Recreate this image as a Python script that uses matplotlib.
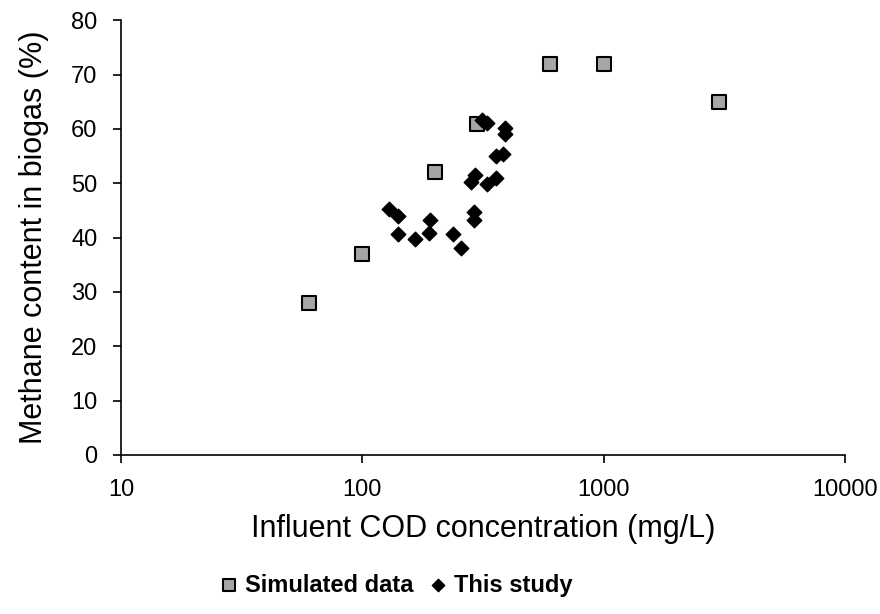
import matplotlib.pyplot as plt

plt.rcParams['font.family'] = ['Liberation Sans', 'DejaVu Sans']

# Simulated data (square markers)
sim_cod = [60, 100, 200, 300, 600, 1000, 3000]
sim_ch4 = [28, 37, 52, 61, 72, 72, 65]

# This study (diamond markers)
study_cod = [129, 141, 140, 165, 190, 189, 238, 256, 290, 290,
             292, 283, 329, 357, 357, 384, 389, 392, 314, 329]
study_ch4 = [45.2, 43.9, 40.6, 39.8, 43.3, 40.8, 40.6, 38.0, 44.7, 43.3,
             51.6, 50.2, 49.9, 51.0, 55.0, 55.3, 60.2, 59.0, 61.7, 61.1]

fig = plt.figure(figsize=(8.8, 6.14), dpi=100)
ax = fig.add_axes([0.1375, 0.259, 0.8225, 0.708])

ax.scatter(sim_cod, sim_ch4, marker='s', s=110, facecolor='#a6a6a6',
           edgecolor='black', linewidth=1.5, label='Simulated data', zorder=3)
ax.scatter(study_cod, study_ch4, marker='D', s=55, facecolor='black',
           edgecolor='black', label='This study', zorder=4)

ax.set_xscale('log')
ax.set_xlim(10, 10000)
ax.set_ylim(0, 80)
ax.set_yticks(range(0, 81, 10))
ax.set_xticks([10, 100, 1000, 10000])
ax.set_xticklabels(['10', '100', '1000', '10000'])
ax.minorticks_off()

ax.spines['top'].set_visible(False)
ax.spines['right'].set_visible(False)
for s in ['left', 'bottom']:
    ax.spines[s].set_color('black')
    ax.spines[s].set_linewidth(1.2)
ax.tick_params(labelsize=17, length=6, width=1.2, colors='black')
ax.tick_params(axis='x', pad=11)
ax.tick_params(axis='y', pad=11)

ax.set_xlabel('Influent COD concentration (mg/L)', fontsize=22, labelpad=10)
ax.set_ylabel('Methane content in biogas (%)', fontsize=22, labelpad=16)

leg = fig.legend(loc='center', bbox_to_anchor=(0.450, 0.047), ncol=2,
                 frameon=False, prop={'size': 17, 'weight': 'bold'},
                 handlelength=0.8, handletextpad=0.3, columnspacing=0.6,
                 markerscale=0.85)

fig.savefig('out.png', dpi=100)
